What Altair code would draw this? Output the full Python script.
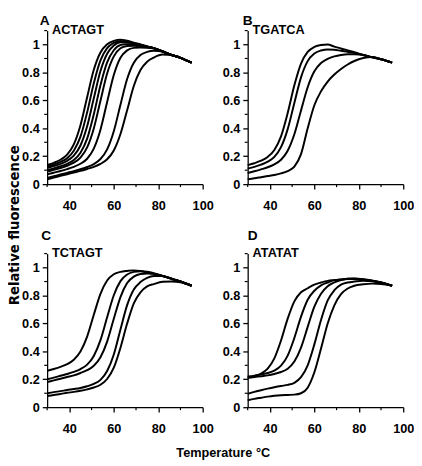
import altair as alt
import pandas as pd

# Temperature grid (°C) at which each melting curve was read
temps = [30, 33, 36, 39, 42, 45, 48, 51, 54, 57, 60, 63, 66, 69, 72, 75, 78, 82, 86, 90, 95]

# Panel A  (ACTAGT)
a_1 = [0.137, 0.153, 0.175, 0.212, 0.285, 0.422, 0.623, 0.819, 0.943, 1.002, 1.026, 1.035, 1.027, 1.014, 1.0, 0.987, 0.974, 0.95, 0.925, 0.905, 0.87]
a_2 = [0.126, 0.141, 0.159, 0.186, 0.239, 0.340, 0.514, 0.723, 0.887, 0.974, 1.012, 1.026, 1.02, 1.01, 0.998, 0.986, 0.974, 0.95, 0.925, 0.905, 0.87]
a_3 = [0.116, 0.129, 0.145, 0.167, 0.204, 0.277, 0.414, 0.615, 0.81, 0.934, 0.993, 1.016, 1.014, 1.007, 0.997, 0.985, 0.974, 0.95, 0.925, 0.905, 0.87]
a_4 = [0.10, 0.113, 0.128, 0.146, 0.173, 0.225, 0.326, 0.50, 0.709, 0.872, 0.959, 0.997, 1.003, 1.0, 0.993, 0.983, 0.974, 0.95, 0.925, 0.905, 0.87]
a_5 = [0.09, 0.103, 0.116, 0.132, 0.154, 0.19, 0.263, 0.399, 0.598, 0.792, 0.915, 0.973, 0.989, 0.991, 0.988, 0.981, 0.974, 0.95, 0.925, 0.905, 0.87]
a_6 = [0.07, 0.082, 0.094, 0.108, 0.124, 0.146, 0.182, 0.255, 0.39, 0.589, 0.782, 0.905, 0.958, 0.976, 0.979, 0.977, 0.972, 0.95, 0.925, 0.905, 0.87]
a_7 = [0.045, 0.057, 0.069, 0.081, 0.093, 0.107, 0.123, 0.144, 0.18, 0.249, 0.379, 0.569, 0.753, 0.87, 0.925, 0.947, 0.955, 0.95, 0.925, 0.905, 0.87]
a_8 = [0.035, 0.047, 0.059, 0.071, 0.083, 0.095, 0.109, 0.124, 0.145, 0.178, 0.241, 0.359, 0.529, 0.703, 0.817, 0.877, 0.907, 0.928, 0.925, 0.905, 0.87]

# Panel B  (TGATCA)
b_1 = [0.136, 0.150, 0.168, 0.195, 0.245, 0.342, 0.509, 0.708, 0.864, 0.947, 0.983, 0.997, 1.0, 0.985, 0.972, 0.958, 0.945, 0.925, 0.908, 0.895, 0.87]
b_2 = [0.111, 0.124, 0.14, 0.161, 0.196, 0.265, 0.394, 0.582, 0.765, 0.881, 0.935, 0.957, 0.965, 0.963, 0.955, 0.948, 0.94, 0.925, 0.908, 0.895, 0.87]
b_3 = [0.08, 0.092, 0.106, 0.121, 0.142, 0.175, 0.239, 0.357, 0.528, 0.694, 0.808, 0.868, 0.898, 0.915, 0.925, 0.93, 0.93, 0.925, 0.91, 0.895, 0.87]
b_4 = [0.035, 0.042, 0.05, 0.058, 0.066, 0.077, 0.094, 0.125, 0.215, 0.40, 0.565, 0.665, 0.735, 0.785, 0.825, 0.857, 0.882, 0.903, 0.91, 0.895, 0.87]

# Panel C  (TCTAGT)
c_1 = [0.261, 0.274, 0.289, 0.308, 0.34, 0.399, 0.506, 0.662, 0.812, 0.907, 0.952, 0.969, 0.976, 0.98, 0.975, 0.965, 0.955, 0.94, 0.92, 0.9, 0.87]
c_2 = [0.20, 0.212, 0.225, 0.238, 0.253, 0.273, 0.305, 0.367, 0.48, 0.644, 0.802, 0.903, 0.95, 0.969, 0.974, 0.97, 0.96, 0.94, 0.92, 0.9, 0.87]
c_3 = [0.18, 0.192, 0.204, 0.216, 0.228, 0.245, 0.265, 0.297, 0.358, 0.47, 0.633, 0.789, 0.889, 0.935, 0.954, 0.958, 0.955, 0.94, 0.92, 0.9, 0.87]
c_4 = [0.10, 0.108, 0.115, 0.123, 0.13, 0.138, 0.15, 0.167, 0.196, 0.259, 0.378, 0.557, 0.731, 0.843, 0.896, 0.927, 0.94, 0.94, 0.92, 0.9, 0.87]
c_5 = [0.08, 0.088, 0.095, 0.103, 0.11, 0.118, 0.128, 0.141, 0.161, 0.202, 0.283, 0.426, 0.599, 0.744, 0.823, 0.865, 0.882, 0.898, 0.9, 0.895, 0.87]

# Panel D  (ATATAT)
d_1 = [0.213, 0.223, 0.241, 0.277, 0.35, 0.478, 0.634, 0.758, 0.823, 0.852, 0.878, 0.893, 0.905, 0.91, 0.915, 0.918, 0.918, 0.913, 0.905, 0.893, 0.87]
d_2 = [0.22, 0.226, 0.235, 0.245, 0.262, 0.298, 0.37, 0.496, 0.649, 0.77, 0.834, 0.873, 0.893, 0.91, 0.915, 0.92, 0.92, 0.915, 0.905, 0.893, 0.87]
d_3 = [0.21, 0.216, 0.222, 0.228, 0.238, 0.252, 0.276, 0.327, 0.427, 0.575, 0.72, 0.813, 0.866, 0.894, 0.91, 0.92, 0.922, 0.917, 0.907, 0.893, 0.87]
d_4 = [0.095, 0.11, 0.122, 0.133, 0.143, 0.152, 0.16, 0.175, 0.215, 0.3, 0.45, 0.625, 0.765, 0.838, 0.878, 0.893, 0.9, 0.905, 0.902, 0.89, 0.87]
d_5 = [0.05, 0.06, 0.068, 0.076, 0.082, 0.086, 0.088, 0.09, 0.1, 0.14, 0.25, 0.42, 0.6, 0.73, 0.81, 0.85, 0.87, 0.88, 0.885, 0.882, 0.87]

# Axis ticks
x_major = [40, 60, 80, 100]
x_minor = [30, 50, 70, 90]
y_major = [0, 0.2, 0.4, 0.6, 0.8, 1.0]
y_minor = [0.1, 0.3, 0.5, 0.7, 0.9, 1.1]

panel_letters = ["A", "B", "C", "D"]
panel_names = ["ACTAGT", "TGATCA", "TCTAGT", "ATATAT"]
x_title = "Temperature °C"
y_title = "Relative fluorescence"

W, H = 159, 157
FONT = "Liberation Sans"

XSCALE = alt.Scale(domain=[30, 100], nice=False, zero=False)
YSCALE = alt.Scale(domain=[0, 1.1], nice=False, zero=True)
XAXIS = alt.Axis(
    values=x_major, title=None, tickSize=5, tickWidth=1.3, tickColor="black",
    domainColor="black", domainWidth=1.3, labelPadding=11, labelFlush=False,
    labelFont=FONT, labelFontWeight="bold", labelFontSize=13, labelColor="black",
    grid=False, labelOverlap=False)
YAXIS = alt.Axis(
    values=y_major, format=".1~f", title=None, tickSize=5, tickWidth=1.3,
    tickColor="black", domainColor="black", domainWidth=1.3, labelPadding=3,
    labelFont=FONT, labelFontWeight="bold", labelFontSize=13, labelColor="black",
    grid=False, labelOverlap=False)


def long_frame(curves):
    rows = []
    for i, c in enumerate(curves):
        for t, v in zip(temps, c):
            rows.append({"T": t, "v": v, "curve": i})
    return pd.DataFrame(rows)


def text_layer(txt, x, y, size, angle=0, align="left", baseline="alphabetic", font=FONT):
    return alt.Chart(pd.DataFrame({"label": [txt]})).mark_text(
        align=align, baseline=baseline, fontSize=size, fontWeight="bold",
        font=font, color="black", angle=angle
    ).encode(x=alt.value(x), y=alt.value(y), text="label:N")


def panel(curves, letter, name, letter_dx, letter_dy, extra=()):
    df = long_frame(curves)
    lines = alt.Chart(df).mark_line(
        interpolate="monotone", color="black", strokeWidth=2
    ).encode(
        x=alt.X("T:Q", scale=XSCALE, axis=XAXIS),
        y=alt.Y("v:Q", scale=YSCALE, axis=YAXIS),
        detail="curve:N",
    )
    xm = alt.Chart(pd.DataFrame({"T": x_minor})).mark_rule(color="black", strokeWidth=1.2).encode(
        x=alt.X("T:Q", scale=XSCALE, axis=XAXIS), y=alt.value(H), y2=alt.value(H + 3))
    ym = alt.Chart(pd.DataFrame({"v": y_minor})).mark_rule(color="black", strokeWidth=1.2).encode(
        y=alt.Y("v:Q", scale=YSCALE, axis=YAXIS), x=alt.value(0), x2=alt.value(-3))
    lab = text_layer(name, 5, 3.5, 13)
    let = text_layer(letter, letter_dx, letter_dy, 14)
    layers = [lines, xm, ym, lab, let] + list(extra)
    return alt.layer(*layers).properties(width=W, height=H)


pA = panel([a_1, a_2, a_3, a_4, a_5, a_6, a_7, a_8], panel_letters[0], panel_names[0], -7.5, -6)
pB = panel([b_1, b_2, b_3, b_4], panel_letters[1], panel_names[1], -5, -6)
pC = panel([c_1, c_2, c_3, c_4, c_5], panel_letters[2], panel_names[2], -6, -14, extra=[
    text_layer(x_title, 180, 207.7, 13, align="center"),
    text_layer(y_title, -32.5, -29, 13.5, angle=270, align="center", baseline="middle", font="DejaVu Sans"),
])
pD = panel([d_1, d_2, d_3, d_4, d_5], panel_letters[3], panel_names[3], 0, -14)

chart = alt.concat(
    pA, pB, pC, pD, columns=2, spacing={"row": 71, "column": 46}, bounds="flush"
).properties(
    padding={"left": 0, "top": 1, "right": 0, "bottom": 0}
).configure_view(stroke=None)

chart.save("out.html", embed_options={"renderer": "svg", "actions": False})
